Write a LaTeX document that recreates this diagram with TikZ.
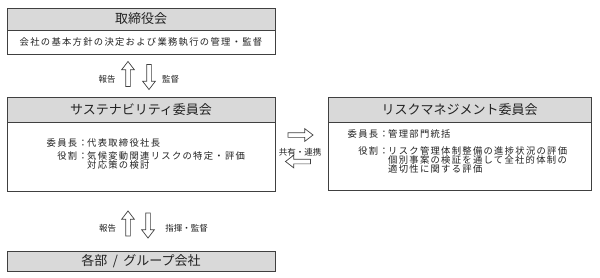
\documentclass[tikz,border=0pt]{standalone}
\usepackage{fontspec}
\setmainfont{Noto Sans CJK JP}
\newfontfamily\bodyfont[LetterSpace=14]{Noto Sans CJK JP}
\usetikzlibrary{shapes.arrows}
\definecolor{linec}{HTML}{404040}
\definecolor{hdrfill}{HTML}{D9D9D9}
\definecolor{txt}{HTML}{222222}
\begin{document}
\begin{tikzpicture}[x=1pt,y=-1pt,
 hdr/.style={draw=linec, line width=0.8pt, fill=hdrfill, inner sep=0pt, text=txt, font=\fontsize{13}{15}\selectfont},
 bodybox/.style={draw=linec, line width=0.8pt, fill=white, inner sep=0pt, text=txt, font=\bodyfont\fontsize{9.3}{11}\selectfont},
 btext/.style={inner sep=0pt, text=txt, font=\bodyfont\fontsize{9.3}{11}\selectfont},
 lbl/.style={inner sep=0pt, text=txt, font=\fontsize{8.5}{10}\selectfont},
 barrow/.style={single arrow, draw=linec, line width=0.7pt, fill=white, inner xsep=0pt, inner ysep=2pt, minimum height=25pt, single arrow head extend=4pt, single arrow tip angle=75}]
\useasboundingbox (0,0) rectangle (600,278);

% Board
\node[bodybox, minimum width=268pt, minimum height=24pt] (boardb) at (141,42) {会社の基本方針の決定および業務執行の管理・監督};
\node[hdr, minimum width=268pt, minimum height=22pt] (boardh) at (141,19) {取締役会};

% Sustainability committee
\node[bodybox, minimum width=268pt, minimum height=69pt] (susb) at (141,156.5) {};
\node[hdr, minimum width=268pt, minimum height=25pt] (sush) at (141,109.5) {サステナビリティ委員会};
\node[btext, anchor=base east] (s1l) at (88,146.2) {委員長：};
\node[btext, anchor=base west] (s1r) at (87,146.2) {代表取締役社長};
\node[btext, anchor=base east] (s2l) at (88,159.5) {役割：};
\node[btext, anchor=base west] (s2r) at (87,159.5) {気候変動関連リスクの特定・評価};
\node[btext, anchor=base west] (s3r) at (87,168) {対応策の検討};

% Risk management committee
\node[bodybox, minimum width=263pt, minimum height=68pt] (riskb) at (459.5,156) {};
\node[hdr, minimum width=263pt, minimum height=25pt] (riskh) at (459.5,109.5) {リスクマネジメント委員会};
\node[btext, anchor=base east] (r1l) at (389,137.5) {委員長：};
\node[btext, anchor=base west] (r1r) at (388,137.5) {管理部門統括};
\node[btext, anchor=base east] (r2l) at (389,154) {役割：};
\node[btext, anchor=base west] (r2r) at (388,154) {リスク管理体制整備の進捗状況の評価};
\node[btext, anchor=base west] (r3r) at (388,163.5) {個別事案の検証を通して全社的体制の};
\node[btext, anchor=base west] (r4r) at (388,172.5) {適切性に関する評価};

% Departments
\node[hdr, minimum width=268pt, minimum height=20pt] (dept) at (141,261) {各部\hspace{2.5pt} / \hspace{2.5pt}グループ会社};

% Arrows board <-> sustainability
\node[barrow, rotate=90] (a1) at (128,75.5) {};
\node[barrow, rotate=-90] (a2) at (149,75.5) {};
\node[lbl] (l1) at (107,79) {報告};
\node[lbl] (l2) at (170.5,79) {監督};

% Arrows sustainability <-> departments
\node[barrow, rotate=90] (a3) at (128,225) {};
\node[barrow, rotate=-90] (a4) at (148,224) {};
\node[lbl] (l3) at (107.5,228) {報告};
\node[lbl] (l4) at (186.5,228) {指揮・監督};

% Arrows sustainability <-> risk
\node[barrow] (a5) at (299,135) {};
\node[barrow, rotate=180] (a6) at (299.5,161.5) {};
\node[lbl] (l5) at (300,152) {共有・連携};
\end{tikzpicture}
\end{document}
